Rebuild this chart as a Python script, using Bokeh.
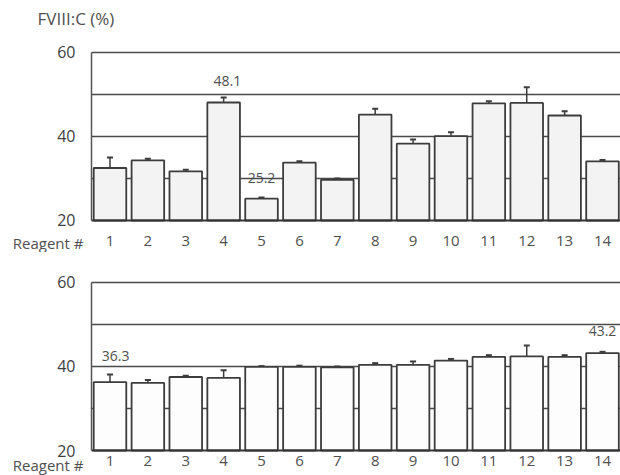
from bokeh.plotting import figure
from bokeh.models import Range1d, FixedTicker, Label, Whisker, TeeHead, ColumnDataSource, Grid
from bokeh.layouts import column
from bokeh.embed import file_html
from bokeh.resources import INLINE

reagents = list(range(1, 15))
top_values = [32.5, 34.3, 31.7, 48.1, 25.2, 33.8, 29.7, 45.2, 38.3, 40.1, 47.9, 48.0, 45.0, 34.1]
top_errors = [2.5, 0.4, 0.4, 1.2, 0.3, 0.3, 0.3, 1.4, 1.0, 0.9, 0.5, 3.7, 1.0, 0.3]
bottom_values = [36.3, 36.1, 37.5, 37.3, 39.9, 39.9, 39.8, 40.4, 40.4, 41.4, 42.3, 42.4, 42.3, 43.2]
bottom_errors = [1.8, 0.7, 0.3, 1.8, 0.2, 0.3, 0.2, 0.4, 0.8, 0.4, 0.4, 2.6, 0.4, 0.3]
y_ticks = [20, 40, 60]
grid_ticks = [30, 40, 50, 60]
y_label = "FVIII:C (%)"
x_label = "Reagent #"

FONT = "Open Sans"
TXT = "#505050"
W = 620
X0, X1 = 0.512, 14.475         # plotting area in data units
XLEFT = -1.890                 # canvas left edge in data units
Y0, Y1 = 20, 60


def make_fig(values, errors, height, ybottom, ytop, bar_fill, label_standoff, xlab_y):
    p = figure(width=W, height=height, output_backend="svg", toolbar_location=None,
               x_range=Range1d(XLEFT, X1), y_range=Range1d(ybottom, ytop),
               min_border=0)
    p.outline_line_color = None
    p.background_fill_color = "white"
    p.border_fill_color = "white"
    p.xgrid.grid_line_color = None
    p.ygrid.ticker = FixedTicker(ticks=grid_ticks)
    p.ygrid.grid_line_color = "#4a4a4a"
    p.ygrid.grid_line_width = 1.3
    if "cross_bounds" in Grid.properties():
        p.ygrid.cross_bounds = (X0, X1)

    p.yaxis.fixed_location = X0
    p.yaxis.bounds = (Y0, Y1)
    p.yaxis.ticker = FixedTicker(ticks=y_ticks)
    p.yaxis.axis_line_color = "#555555"
    p.yaxis.axis_line_width = 1.5
    p.yaxis.major_tick_line_color = None
    p.yaxis.minor_tick_line_color = None
    p.yaxis.major_tick_out = 0
    p.yaxis.major_tick_in = 0
    p.yaxis.major_label_standoff = 16
    p.yaxis.major_label_text_font = FONT
    p.yaxis.major_label_text_font_size = "16px"
    p.yaxis.major_label_text_color = "#404040"

    p.xaxis.fixed_location = Y0
    p.xaxis.bounds = (X0, X1)
    p.xaxis.ticker = FixedTicker(ticks=reagents)
    p.xaxis.axis_line_color = "#333333"
    p.xaxis.axis_line_width = 2.2
    p.xaxis.major_tick_line_color = None
    p.xaxis.minor_tick_line_color = None
    p.xaxis.major_tick_out = 0
    p.xaxis.major_tick_in = 0
    p.xaxis.major_label_standoff = label_standoff
    p.xaxis.major_label_text_font = FONT
    p.xaxis.major_label_text_font_size = "15px"
    p.xaxis.major_label_text_color = TXT

    src = ColumnDataSource(dict(x=reagents, top=values,
                                upper=[v + e for v, e in zip(values, errors)]))
    p.vbar(x="x", top="top", bottom=Y0, width=0.86, source=src,
           fill_color=bar_fill, line_color="#3c3c3c", line_width=1.8)
    p.add_layout(Whisker(source=src, base="x", lower="top", upper="upper",
                         dimension="height", line_color="#3c3c3c", line_width=1.5,
                         lower_head=None,
                         upper_head=TeeHead(size=6, line_color="#3c3c3c", line_width=2)))
    p.add_layout(Label(x=0.3005, y=xlab_y, text=x_label, text_align="right",
                       text_baseline="middle", text_font=FONT,
                       text_font_size="15px", text_color=TXT))
    return p


p1 = make_fig(top_values, top_errors, 252, 12.38, 72.38, "#f3f3f3", 16, 14.6)
p1.add_layout(Label(x=-0.912, y=68.1, text=y_label, text_align="left",
                    text_baseline="middle", text_font=FONT,
                    text_font_size="17px", text_color=TXT))
p1.add_layout(Label(x=reagents[3] + 0.1, y=top_values[3] + 5.23, text=f"{top_values[3]}",
                    text_align="center", text_baseline="middle", text_font=FONT,
                    text_font_size="14px", text_color=TXT))
p1.add_layout(Label(x=reagents[4], y=top_values[4] + 4.8, text=f"{top_values[4]}",
                    text_align="center", text_baseline="middle", text_font=FONT,
                    text_font_size="14px", text_color=TXT))

p2 = make_fig(bottom_values, bottom_errors, 223, 14.05, 67.14, "#fdfdfd", 5, 16.6)
p2.add_layout(Label(x=reagents[0] + 0.15, y=bottom_values[0] + 6.15, text=f"{bottom_values[0]}",
                    text_align="center", text_baseline="middle", text_font=FONT,
                    text_font_size="14px", text_color=TXT))
p2.add_layout(Label(x=reagents[13], y=bottom_values[13] + 5.2, text=f"{bottom_values[13]}",
                    text_align="center", text_baseline="middle", text_font=FONT,
                    text_font_size="14px", text_color=TXT))

layout = column(p1, p2, spacing=0)
open("out.html", "w").write(file_html(layout, INLINE))
